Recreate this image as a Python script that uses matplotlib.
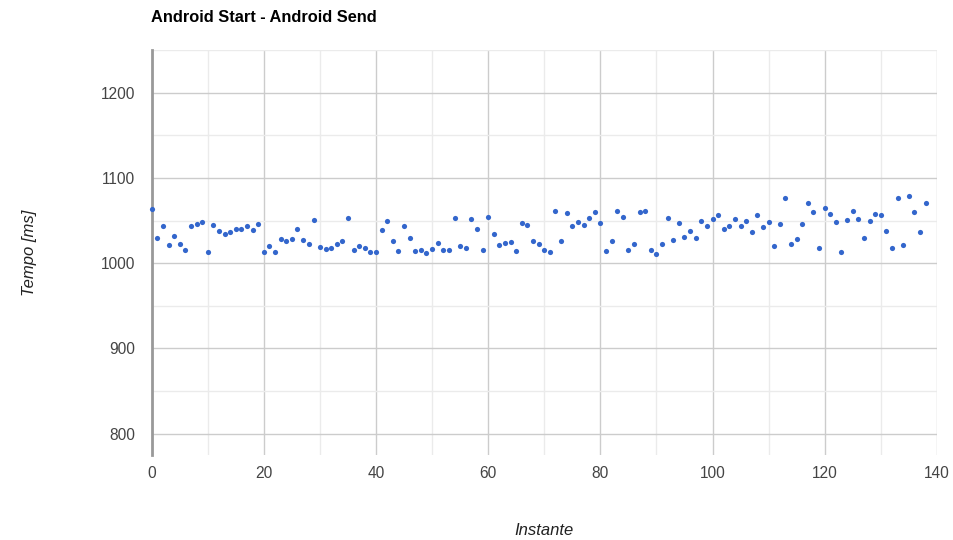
import numpy as np
import matplotlib.pyplot as plt
from matplotlib.ticker import MultipleLocator

instante = list(range(139))
tempo = [
    1063, 1030, 1044, 1021, 1032, 1023, 1016, 1043, 1046, 1048,
    1013, 1045, 1038, 1034, 1036, 1040, 1040, 1043, 1039, 1046,
    1013, 1020, 1013, 1028, 1026, 1028, 1040, 1027, 1022, 1051,
    1019, 1017, 1018, 1022, 1026, 1053, 1015, 1020, 1018, 1013,
    1013, 1039, 1050, 1026, 1014, 1044, 1030, 1014, 1016, 1012,
    1017, 1024, 1016, 1015, 1053, 1020, 1018, 1052, 1040, 1016,
    1054, 1034, 1021, 1024, 1025, 1014, 1047, 1045, 1026, 1022,
    1015, 1013, 1061, 1026, 1059, 1043, 1048, 1045, 1053, 1060,
    1047, 1014, 1026, 1061, 1054, 1015, 1022, 1060, 1061, 1016,
    1011, 1022, 1053, 1027, 1047, 1031, 1038, 1029, 1050, 1044,
    1052, 1056, 1040, 1044, 1052, 1044, 1050, 1036, 1057, 1042,
    1048, 1020, 1046, 1076, 1022, 1028, 1046, 1070, 1060, 1018,
    1065, 1058, 1048, 1013, 1051, 1061, 1052, 1030, 1050, 1058,
    1056, 1038, 1018, 1077, 1021, 1079, 1060, 1036, 1071,
]

plt.rcParams['font.family'] = ['Liberation Sans', 'DejaVu Sans']

fig = plt.figure(figsize=(9.54, 5.4), dpi=100)
ax = fig.add_axes([0.159, 0.1574, 0.823, 0.75])

ax.scatter(instante, tempo, s=14, color='#3366cc', zorder=3, linewidths=0, clip_on=False)

ax.set_xlim(0, 140)
ax.set_ylim(775, 1250)
ax.xaxis.set_major_locator(MultipleLocator(20))
ax.xaxis.set_minor_locator(MultipleLocator(10))
ax.yaxis.set_major_locator(MultipleLocator(100))
ax.yaxis.set_minor_locator(MultipleLocator(50))
ax.set_yticks([800, 900, 1000, 1100, 1200])

ax.grid(which='major', color='#cccccc', linewidth=1)
ax.grid(which='minor', color='#ebebeb', linewidth=1)
ax.set_axisbelow(True)

for side in ['top', 'right', 'bottom']:
    ax.spines[side].set_visible(False)
ax.spines['left'].set_color('#999999')
ax.spines['left'].set_linewidth(2)
ax.spines['left'].set_zorder(2)

ax.tick_params(which='both', length=0, labelsize=11.2, labelcolor='#444444')
ax.tick_params(axis='y', pad=12)
ax.tick_params(axis='x', pad=8)

ax.set_xlabel('Instante', style='italic', fontsize=12, color='#222222', labelpad=30)
ax.set_ylabel('Tempo [ms]', style='italic', fontsize=12, color='#222222', labelpad=46)
fig.text(0.158, 0.9685, 'Android Start - Android Send', fontsize=11.8, fontweight='bold',
         color='#000000', va='center', ha='left')

fig.savefig('out.png', dpi=100)
